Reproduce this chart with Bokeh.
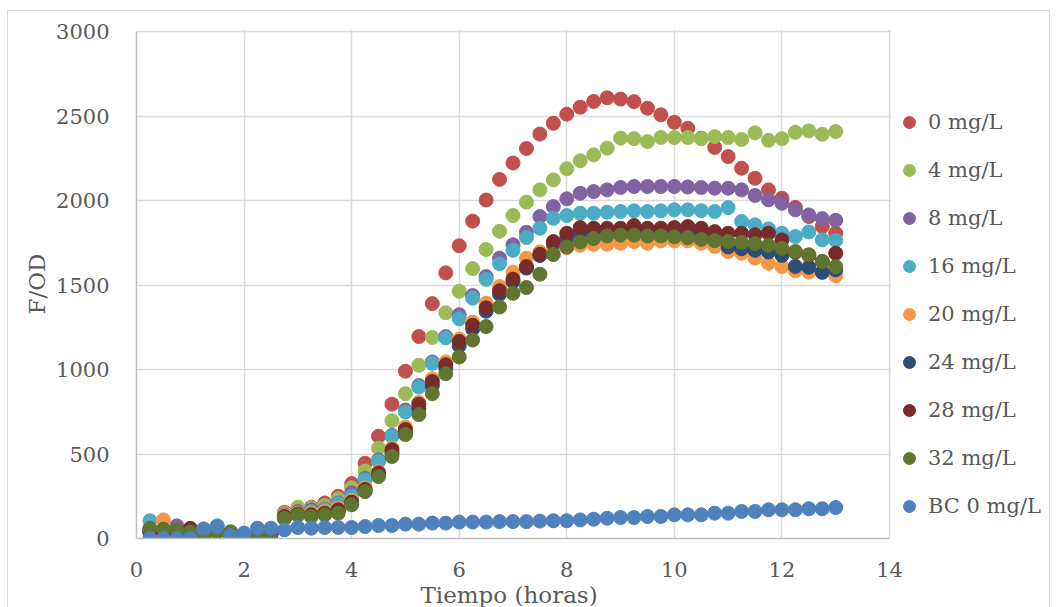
from bokeh.plotting import figure
from bokeh.models import (Legend, LegendItem, FixedTicker, Range1d,
                          BoxAnnotation, Title)
from bokeh.embed import file_html
from bokeh.resources import INLINE

# Sampling times (hours)
tiempo = [0.25, 0.5, 0.75, 1.0, 1.25, 1.5, 1.75, 2.0, 2.25, 2.5,
          2.75, 3.0, 3.25, 3.5, 3.75, 4.0, 4.25, 4.5, 4.75, 5.0,
          5.25, 5.5, 5.75, 6.0, 6.25, 6.5, 6.75, 7.0, 7.25, 7.5,
          7.75, 8.0, 8.25, 8.5, 8.75, 9.0, 9.25, 9.5, 9.75, 10.0,
          10.25, 10.5, 10.75, 11.0, 11.25, 11.5, 11.75, 12.0, 12.25, 12.5,
          12.75, 13.0]

# F/OD readings per concentration
c0 = [45, 45, 40, 55, 5, 40, 0, 20, 5, 25,
      155, 175, 185, 210, 250, 325,
      445, 605, 795, 990, 1195, 1390, 1572, 1732, 1878, 2003, 2125, 2222, 2308, 2393, 2457,
      2511, 2552, 2586, 2608, 2600, 2585, 2546, 2507, 2463, 2428, 2369, 2314, 2260, 2191, 2132,
      2063, 2014, 1959, 1905, 1846, 1806]
c4 = [50, 45, 50, 40, 10, 45, 15, 15, 15, 30,
      150, 185, 180, 195, 235, 300,
      400, 535, 697, 857, 1025, 1190, 1336, 1463, 1597, 1710, 1818, 1911, 1990, 2063, 2122,
      2188, 2235, 2270, 2310, 2369, 2366, 2349, 2373, 2373, 2373, 2366, 2378, 2373, 2361, 2400,
      2356, 2366, 2404, 2412, 2392, 2408]
c8 = [55, 55, 75, 40, 5, 45, 10, 15, 15, 30,
      140, 160, 170, 175, 210, 270,
      355, 465, 610, 760, 905, 1045, 1195, 1324, 1438, 1550, 1659, 1738, 1812, 1905, 1964,
      2010, 2043, 2053, 2063, 2077, 2083, 2083, 2083, 2083, 2080, 2077, 2073, 2073, 2063, 2030,
      2004, 1984, 1945, 1915, 1893, 1883]
c16 = [105, 45, 40, 30, 0, 75, 10, 15, 15, 25,
       130, 150, 160, 170, 205, 250,
       347, 456, 604, 749, 896, 1037, 1187, 1300, 1422, 1534, 1626, 1705, 1781, 1836, 1895,
       1911, 1925, 1925, 1931, 1935, 1939, 1935, 1939, 1945, 1945, 1940, 1935, 1958, 1876, 1856,
       1832, 1806, 1787, 1814, 1767, 1764]
c20 = [50, 110, 45, 35, 10, 40, 10, 15, 15, 25,
       135, 150, 150, 160, 180, 225,
       300, 395, 535, 660, 805, 945, 1045, 1180, 1280, 1392, 1491, 1576, 1659, 1695, 1715,
       1722, 1735, 1741, 1741, 1747, 1757, 1747, 1761, 1761, 1761, 1747, 1728, 1698, 1688, 1659,
       1629, 1609, 1584, 1576, 1576, 1556]
c24 = [40, 40, 35, 30, 10, 40, 5, 15, 10, 25,
       120, 140, 135, 145, 160, 205,
       280, 375, 505, 625, 770, 905, 1010, 1140, 1240, 1345, 1445, 1520, 1600, 1675, 1745,
       1780, 1805, 1815, 1820, 1825, 1825, 1820, 1820, 1815, 1812, 1800, 1770, 1725, 1715, 1705,
       1695, 1675, 1610, 1605, 1575, 1590]
c28 = [40, 40, 40, 60, 5, 40, 0, 15, 5, 25,
       130, 145, 140, 150, 170, 215,
       290, 388, 525, 645, 795, 929, 1028, 1166, 1262, 1365, 1466, 1535, 1609, 1682, 1757,
       1806, 1840, 1836, 1836, 1836, 1852, 1836, 1836, 1840, 1846, 1836, 1816, 1806, 1806, 1797,
       1806, 1767, 1694, 1675, 1639, 1688]
c32 = [60, 55, 50, 40, 25, 40, 40, 15, 12, 30,
       120, 140, 130, 140, 150, 200,
       278, 367, 485, 615, 733, 857, 975, 1074, 1174, 1254, 1370, 1451, 1485, 1564, 1680,
       1725, 1755, 1775, 1790, 1795, 1795, 1790, 1790, 1785, 1780, 1770, 1762, 1757, 1752, 1745,
       1735, 1718, 1698, 1679, 1639, 1609]
bc0 = [0, 0, 0, 0, 57, 71, 18, 32, 61, 61,
       51, 65, 61, 65, 65, 65,
       71, 77, 77, 85, 85, 91, 91, 97, 97, 97, 100, 100, 100, 103, 105,
       105, 110, 114, 120, 124, 124, 130, 130, 140, 140, 140, 150, 150, 160, 160,
       170, 170, 170, 176, 176, 183]

series_labels = ["0 mg/L", "4 mg/L", "8 mg/L", "16 mg/L", "20 mg/L",
                 "24 mg/L", "28 mg/L", "32 mg/L", "BC 0 mg/L"]
series_values = [c0, c4, c8, c16, c20, c24, c28, c32, bc0]
series_colors = ["#C0504D", "#9BBB59", "#8064A2", "#4BACC6", "#F79646",
                 "#2C4D75", "#772C2A", "#5F7530", "#4F81BD"]

x_ticks = [0, 2, 4, 6, 8, 10, 12, 14]
y_ticks = [0, 500, 1000, 1500, 2000, 2500, 3000]

FONT = "DejaVu Serif"
TEXT = "#595959"
GRID = "#d9d9d9"

# The frame runs past x = 14 so the legend can sit inside it; the strip
# beyond the last gridline is blanked out below.
X_END = 16.919
Y_END = 3012

p = figure(width=1043, height=597,
           x_range=Range1d(0, X_END), y_range=Range1d(0, Y_END),
           output_backend="svg", toolbar_location=None,
           min_border_left=128, min_border_right=5,
           min_border_top=18, min_border_bottom=70,
           margin=(10, 0, 0, 7),
           styles={"border-top": "1px solid #d9d9d9",
                   "border-left": "1px solid #d9d9d9",
                   "border-right": "1px solid #d9d9d9"})

p.background_fill_color = "white"
p.border_fill_color = "white"
p.outline_line_color = None

p.xgrid.ticker = FixedTicker(ticks=x_ticks)
p.ygrid.ticker = FixedTicker(ticks=y_ticks)
p.grid.grid_line_color = GRID
p.grid.grid_line_width = 1.5

p.xaxis.ticker = FixedTicker(ticks=x_ticks)
p.yaxis.ticker = FixedTicker(ticks=y_ticks)
p.xaxis.bounds = (0, 14)
p.yaxis.bounds = (0, 3000)
for ax in (p.xaxis[0], p.yaxis[0]):
    ax.axis_line_color = "#bfbfbf"
    ax.axis_line_width = 1.5
    ax.major_tick_line_color = None
    ax.minor_tick_line_color = None
    ax.major_label_text_font = FONT
    ax.major_label_text_font_size = "21px"
    ax.major_label_text_color = TEXT
    ax.axis_label_text_font = FONT
    ax.axis_label_text_font_size = "23px"
    ax.axis_label_text_font_style = "normal"
    ax.axis_label_text_color = TEXT

p.yaxis.major_label_standoff = 21
p.yaxis.axis_label = "F/OD"
p.yaxis.axis_label_standoff = 3
p.xaxis.major_label_standoff = 17

# x-axis title, centred under the 0-14 span of the axis
p.add_layout(Title(text="Tiempo (horas)", align="left", offset=284,
                   standoff=0, text_font=FONT, text_font_size="23px",
                   text_font_style="normal", text_color=TEXT), "below")

# blank the gridlines to the right of x = 14
p.add_layout(BoxAnnotation(left=14.03, fill_color="white", fill_alpha=1,
                           line_color=None, level="underlay"))

items = []
for lab, vals, col in zip(series_labels, series_values, series_colors):
    r = p.scatter(tiempo, vals, size=14, marker="circle",
                  fill_color=col, line_color=col)
    items.append(LegendItem(label=lab, renderers=[r]))

legend = Legend(items=items, location=(758, 17),
                orientation="vertical",
                glyph_width=30, glyph_height=30,
                label_height=30, spacing=18,
                label_standoff=4, padding=0, margin=0,
                border_line_color=None, background_fill_alpha=0,
                label_text_font=FONT, label_text_font_size="21px",
                label_text_color=TEXT)
p.add_layout(legend, "center")

open("out.html", "w").write(file_html(p, INLINE))
